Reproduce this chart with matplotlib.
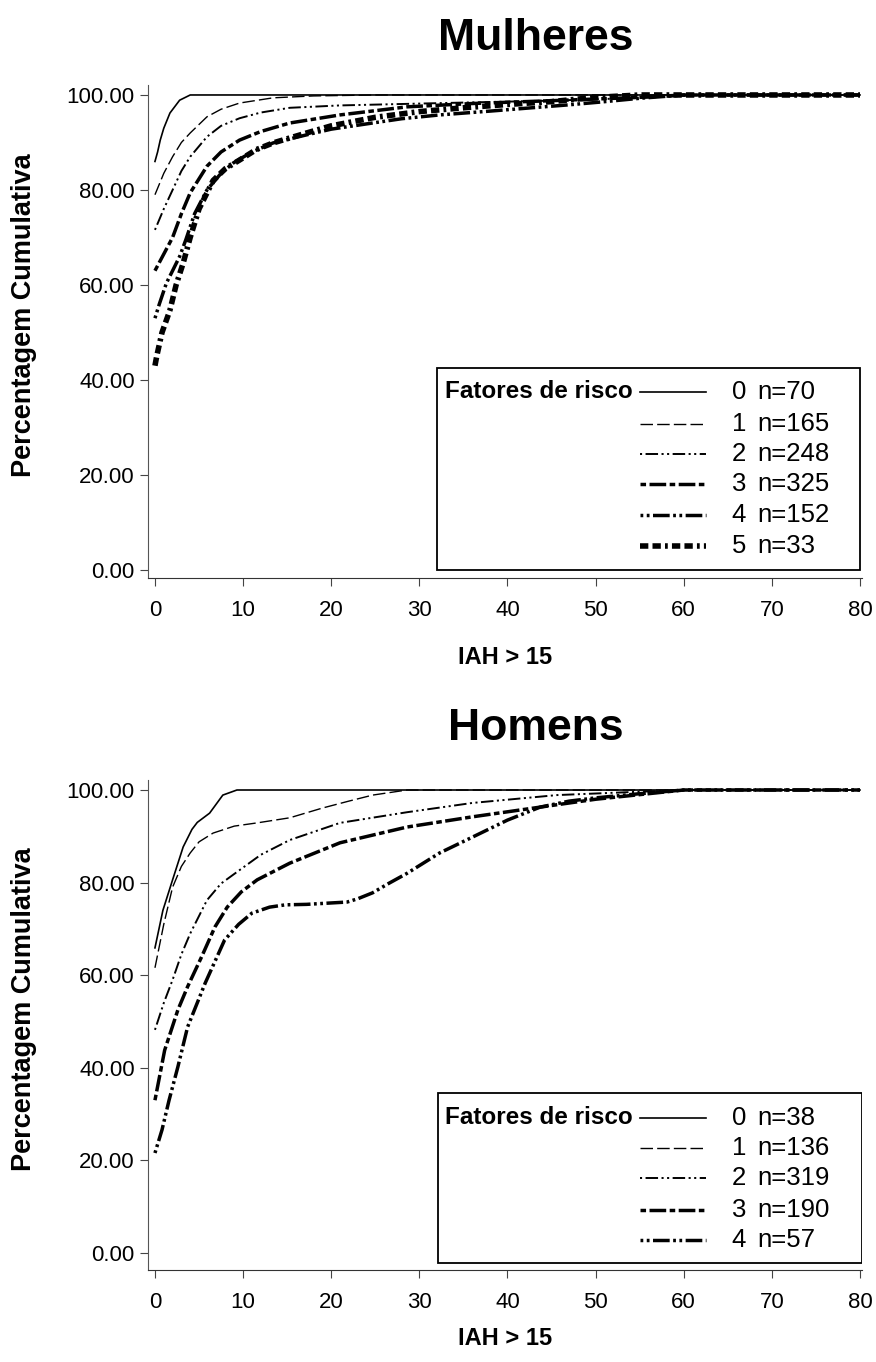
import matplotlib
matplotlib.use("Agg")
import matplotlib.pyplot as plt
from matplotlib.patches import Rectangle

plt.rcParams['font.family'] = ['Liberation Sans', 'DejaVu Sans']
plt.rcParams['lines.scale_dashes'] = False

# ---- Mulheres ----
w_labels = ['0', '1', '2', '3', '4', '5']
w_n = ['n=70', 'n=165', 'n=248', 'n=325', 'n=152', 'n=33']
w_x0 = [0, 0.3, 0.6, 1.0, 1.7, 2.8, 4.0, 80]
w_y0 = [86, 88, 90.5, 93, 96.2, 98.9, 100, 100]
w_x1 = [0, 1, 2, 3, 4, 5.9, 7.5, 9.6, 13.4, 18, 25, 35, 80]
w_y1 = [79, 83.5, 87, 90, 92, 95.4, 97, 98.3, 99.4, 99.8, 100, 100, 100]
w_x2 = [0, 1, 2, 3, 4, 5.9, 7.5, 9.6, 12, 15.3, 21, 28, 35, 45, 55, 62, 80]
w_y2 = [71.6, 76, 80, 84, 87, 91.2, 93.5, 95.1, 96.3, 97.3, 97.8, 98.1, 98.4, 98.8, 99.4, 100, 100]
w_x3 = [0, 1, 2, 3, 4, 5.9, 7.5, 9.6, 12, 15.3, 21, 28.6, 36, 45, 55, 60, 80]
w_y3 = [63, 66.5, 70, 75, 79.4, 85, 88, 90.5, 92.3, 94.1, 95.8, 97.5, 98.2, 98.8, 99.5, 100, 100]
w_x4 = [0, 0.5, 1.3, 2.0, 2.8, 3.5, 4.5, 5.9, 7.5, 8.9, 11, 13.4, 17.2, 20, 24.7, 28, 32.3, 38, 46.8, 50.5, 55, 60, 80]
w_y4 = [53, 56, 60.4, 63, 66, 69.5, 75, 80, 83.5, 85.7, 88, 89.9, 91.6, 92.8, 94.1, 95, 95.8, 96.6, 97.9, 98.5, 99.3, 100, 100]
w_x5 = [0, 0.2, 0.8, 1.7, 2.4, 3.2, 4, 5, 6.6, 8, 9.6, 11.5, 13.4, 17.2, 20, 25, 30, 35, 40, 45, 50, 55, 80]
w_y5 = [43, 45, 50, 54.7, 60, 64.6, 70, 76, 82, 84.5, 86.3, 88.5, 89.9, 92, 93.5, 95.3, 96.5, 97.3, 98, 98.6, 99.5, 100, 100]

# ---- Homens ----
m_labels = ['0', '1', '2', '3', '4']
m_n = ['n=38', 'n=136', 'n=319', 'n=190', 'n=57']
m_x0 = [0, 0.9, 2, 3.2, 4.2, 4.8, 6.2, 7.7, 9.3, 80]
m_y0 = [65.9, 74, 80.6, 87.7, 91.5, 93, 95, 98.9, 100, 100]
m_x1 = [0, 1, 2, 3, 4, 5, 6.6, 9, 11.6, 15.3, 19, 22, 24.7, 28.6, 80]
m_y1 = [61.6, 71, 79, 83.5, 86.4, 88.8, 90.7, 92.2, 92.9, 94, 96.1, 97.6, 98.9, 100, 100]
m_x2 = [0, 1, 2, 3, 4, 5.9, 7.5, 9.6, 12, 15.3, 21, 28.6, 36, 45.6, 52, 60, 80]
m_y2 = [48.2, 54, 59, 64.5, 69, 76.2, 79.8, 82.7, 86, 89.2, 92.9, 95.2, 97.2, 98.9, 99.4, 100, 100]
m_x3 = [0, 1.1, 2.6, 3.7, 5.3, 6.8, 8.2, 9.8, 11.6, 15.3, 21, 28.6, 36, 43.7, 50, 55, 60, 80]
m_y3 = [33, 43.8, 52.5, 57.5, 64, 70.4, 74.7, 78, 80.6, 84.2, 88.6, 92, 94.2, 96.3, 98, 99, 100, 100]
m_x4 = [0, 0.8, 1.6, 2.6, 3.7, 5.7, 7.9, 9.5, 11, 13, 14.8, 17.2, 21.8, 23, 24.7, 26.5, 28.6, 32.3, 36, 40, 43.7, 47, 50, 55, 60, 80]
m_y4 = [21.6, 26.6, 33, 40.2, 48.8, 58.3, 67.6, 71, 73.4, 74.7, 75.2, 75.3, 75.8, 76.5, 77.8, 79.8, 82, 86.4, 89.8, 93.5, 96.3, 97.6, 98.3, 99.2, 100, 100]

w_styles = [
    dict(lw=1.2, ls='-'),
    dict(lw=1.0, dashes=(9, 3)),
    dict(lw=1.4, dashes=(1.5, 2.5, 9, 2.5, 1.5, 2.5)),
    dict(lw=2.5, dashes=(4, 2.5, 12, 2.5)),
    dict(lw=2.5, dashes=(2, 2.5, 2, 2.5, 12, 2.5)),
    dict(lw=4.0, dashes=(6, 3, 6, 3, 2, 3)),
]
m_styles = w_styles[:5]

fig = plt.figure(figsize=(8.76, 13.62), dpi=100)


def setup(ax, title, title_y, xpad):
    ax.set_xlim(-0.79, 80.23)
    ax.spines['top'].set_visible(False)
    ax.spines['right'].set_visible(False)
    ax.spines['left'].set_color('#555555')
    ax.spines['bottom'].set_color('#333333')
    ax.set_xticks(range(0, 81, 10))
    ax.set_yticks(range(0, 101, 20))
    ax.set_yticklabels(['%.2f' % v for v in range(0, 101, 20)])
    ax.tick_params(labelsize=16, length=6, color='#444444')
    ax.tick_params(axis='x', pad=10)
    ax.set_xlabel('IAH > 15', fontsize=17, fontweight='bold', labelpad=xpad)
    ax.set_ylabel('Percentagem Cumulativa', fontsize=19.5, fontweight='bold')
    ax.yaxis.set_label_coords(-0.155, 0.533)
    fig.text(536 / 876, 1 - title_y / 1362, title, ha='center', va='center',
             fontsize=32, fontweight='bold')


def legend(ax, top_px, h_px, box, rows_py, labels, ns, styles):
    def ax_xy(px, py):
        return (px - 148) / 714, (top_px + h_px - py) / h_px
    x0, y0 = ax_xy(box[0], box[3])
    x1, y1 = ax_xy(box[2], box[1])
    ax.add_patch(Rectangle((x0, y0), x1 - x0, y1 - y0, transform=ax.transAxes,
                           fill=False, lw=1.3, ec='black', zorder=5))
    tx, ty = ax_xy(445, rows_py[0])
    ax.text(tx, ty, 'Fatores de risco', transform=ax.transAxes, fontsize=17.5,
            fontweight='bold', va='center', ha='left')
    for py, lab, n, st in zip(rows_py, labels, ns, styles):
        ha, yy = ax_xy(640, py)
        hb, _ = ax_xy(706, py)
        ax.plot([ha, hb], [yy, yy], color='black', transform=ax.transAxes, **st)
        dx, _ = ax_xy(746, py)
        nx, _ = ax_xy(757, py)
        ax.text(dx, yy, lab, transform=ax.transAxes, fontsize=18.5, va='center', ha='right')
        ax.text(nx, yy, n, transform=ax.transAxes, fontsize=18.5, va='center', ha='left')


ax1 = fig.add_axes([148 / 876, 1 - 578 / 1362, 714 / 876, 493 / 1362])
w_data = [(w_x0, w_y0), (w_x1, w_y1), (w_x2, w_y2), (w_x3, w_y3), (w_x4, w_y4), (w_x5, w_y5)]
for (xs, ys), st in zip(w_data, w_styles):
    ax1.plot(xs, ys, color='black', **st)
ax1.set_ylim(-1.7, 102.1)
setup(ax1, 'Mulheres', 38, 18)
legend(ax1, 85, 493, (437, 368, 860, 570), [392, 424, 454, 484, 515, 546],
       w_labels, w_n, w_styles)

ax2 = fig.add_axes([148 / 876, 1 - 1270 / 1362, 714 / 876, 490 / 1362])
m_data = [(m_x0, m_y0), (m_x1, m_y1), (m_x2, m_y2), (m_x3, m_y3), (m_x4, m_y4)]
for (xs, ys), st in zip(m_data, m_styles):
    ax2.plot(xs, ys, color='black', **st)
ax2.set_ylim(-3.67, 102.16)
setup(ax2, 'Homens', 728, 10)
legend(ax2, 780, 490, (438, 1093, 862, 1263), [1118, 1148, 1178, 1210, 1240],
       m_labels, m_n, m_styles)

fig.savefig('out.png', dpi=100)
